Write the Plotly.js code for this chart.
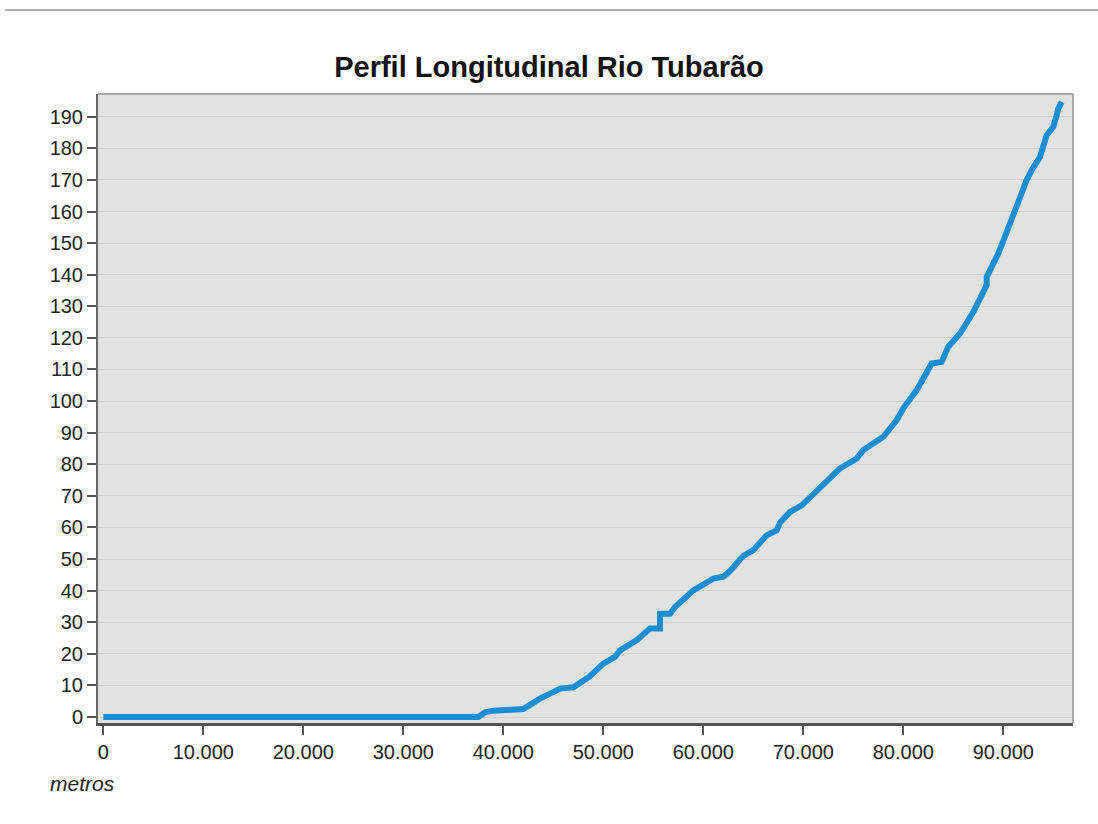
<!DOCTYPE html>
<html>
<head>
<meta charset="utf-8">
<script src="https://cdn.plot.ly/plotly-3.0.1.min.js"></script>
<style>html,body{margin:0;padding:0;background:#fff;}#chart{width:1098px;height:824px;}</style>
</head>
<body>
<div id="chart"></div>
<script>
const distance = [0, 37500, 38200, 39000, 42000, 43700, 45700, 47000, 48670, 50000, 51170, 51670, 53330, 54670, 55670, 55670, 56670, 57170, 59000, 59500, 61000, 62000, 62670, 64000, 65000, 66340, 67340, 67670, 68670, 69840, 71670, 73670, 75340, 76000, 78000, 79340, 80000, 81340, 82840, 83840, 84500, 85670, 87000, 88340, 88340, 89500, 90670, 91670, 92340, 92840, 93670, 94340, 95000, 95340, 95500, 95840];
const elevation = [0, 0, 1.5, 2, 2.5, 5.9, 9, 9.4, 12.9, 16.9, 19, 21.1, 24.3, 28, 28, 32.7, 32.7, 34.8, 40.1, 41, 43.8, 44.4, 46.2, 51, 52.8, 57.5, 59.1, 61.5, 64.9, 67, 72.3, 78.7, 81.8, 84.5, 88.7, 94, 97.7, 103.5, 111.9, 112.4, 117.2, 121.4, 128.2, 136.7, 139.3, 146.7, 156.2, 164.7, 170, 173.1, 177.3, 184.2, 186.8, 190.5, 192.6, 194.7];
const xTicks = [0, 10000, 20000, 30000, 40000, 50000, 60000, 70000, 80000, 90000];
const yTicks = [0,10,20,30,40,50,60,70,80,90,100,110,120,130,140,150,160,170,180,190];
const titleText = 'Perfil Longitudinal Rio Tubarão';
const xLabel = 'metros';

const trace = {
  x: distance, y: elevation, type: 'scatter', mode: 'lines',
  line: {color: '#1a8dd6', width: 6, shape: 'linear'},
  hoverinfo: 'skip'
};
const tickFont = {family: 'Liberation Sans, Arial, sans-serif', size: 20, color: '#222'};
const layout = {
  width: 1098, height: 824,
  margin: {l: 98, r: 25, t: 94, b: 101, pad: 0},
  paper_bgcolor: '#ffffff', plot_bgcolor: '#e2e2e2',
  separators: ',.',
  showlegend: false,
  title: {text: '<b>' + titleText + '</b>', font: {family: 'Liberation Sans, Arial, sans-serif', size: 29, color: '#111'}, x: 0.5, xanchor: 'center', y: 1 - 67/824, yanchor: 'middle', yref: 'container'},
  xaxis: {
    range: [-530, 96970], tickvals: xTicks, ticktext: xTicks.map(v => v === 0 ? '0' : (v/1000).toFixed(0) + '.000'),
    showgrid: false, zeroline: false, showline: true, linecolor: '#555', linewidth: 3,
    ticks: 'outside', ticklen: 9, tickwidth: 2, tickcolor: '#555', tickfont: tickFont
  },
  yaxis: {
    range: [-1.9, 197.2], tickvals: yTicks,
    showgrid: true, gridcolor: '#d0d0d0', gridwidth: 1, zeroline: false,
    showline: true, linecolor: '#666', linewidth: 2,
    ticks: 'outside', ticklen: 9, tickwidth: 2, tickcolor: '#555', tickfont: tickFont
  },
  shapes: [
    {type: 'line', xref: 'paper', yref: 'paper', x0: 0, x1: 1, y0: 1, y1: 1, line: {color: '#a8a8a8', width: 2}},
    {type: 'line', xref: 'paper', yref: 'paper', x0: 1, x1: 1, y0: 0, y1: 1, line: {color: '#a8a8a8', width: 2}},
    {type: 'line', xref: 'paper', yref: 'paper', x0: -0.0954, x1: 1.03, y0: 1.1335, y1: 1.1335, line: {color: '#b0b0b0', width: 2}}
  ],
  annotations: [
    {text: '<i>' + xLabel + '</i>', xref: 'paper', yref: 'paper', x: -0.0154, y: -0.0954, xanchor: 'center', yanchor: 'middle', showarrow: false, font: {family: 'Liberation Sans, Arial, sans-serif', size: 21, color: '#222'}}
  ]
};
Plotly.newPlot('chart', [trace], layout, {displayModeBar: false, staticPlot: true});
</script>
</body>
</html>
